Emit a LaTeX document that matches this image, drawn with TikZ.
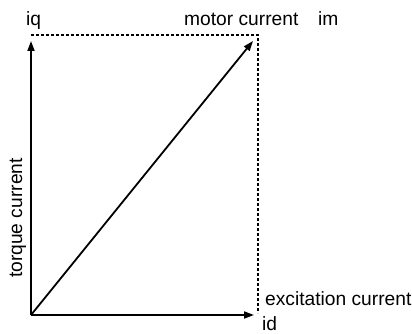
\documentclass[tikz,border=0pt]{standalone}
\usepackage{fontspec}
\setmainfont{Liberation Sans}
\usetikzlibrary{arrows.meta}

\begin{document}
\begin{tikzpicture}[
  x=1pt,y=-1pt,
  axis/.style={-{Triangle[length=10pt,width=7pt]},line width=1.8pt},
  guide/.style={line width=1.6pt,dash pattern=on 3pt off 2pt},
  lbl/.style={font=\fontsize{19.2}{22}\selectfont,inner sep=0pt}
]
  \useasboundingbox (0,0) rectangle (412,334);

  % Axes
  \coordinate (O) at (31,315);
  \coordinate (qtip) at (31,41);
  \coordinate (dtip) at (254,315);
  \coordinate (mtip) at (253,41);
  \coordinate (tl) at (31,35);
  \coordinate (tr) at (258,35);
  \coordinate (br) at (258,313);

  % Dashed box
  \draw[guide] (tl) -- (tr) -- (br);

  % Vectors
  \draw[axis] (O) -- (qtip);
  \draw[axis] (O) -- (dtip);
  \draw[axis] (O) -- (mtip);

  % Labels
  \node[lbl,anchor=base west] (iq) at (26,26) {iq};
  \node[lbl,anchor=base west] (motor) at (184,26) {motor current};
  \node[lbl,anchor=base west] (im) at (318,26) {im};
  \node[lbl,anchor=base west] (exc) at (265,305) {excitation current};
  \node[lbl,anchor=base west] (id) at (262,330) {id};
  \node[lbl,anchor=base,rotate=90] (torque) at (22,218) {torque current};
\end{tikzpicture}
\end{document}
